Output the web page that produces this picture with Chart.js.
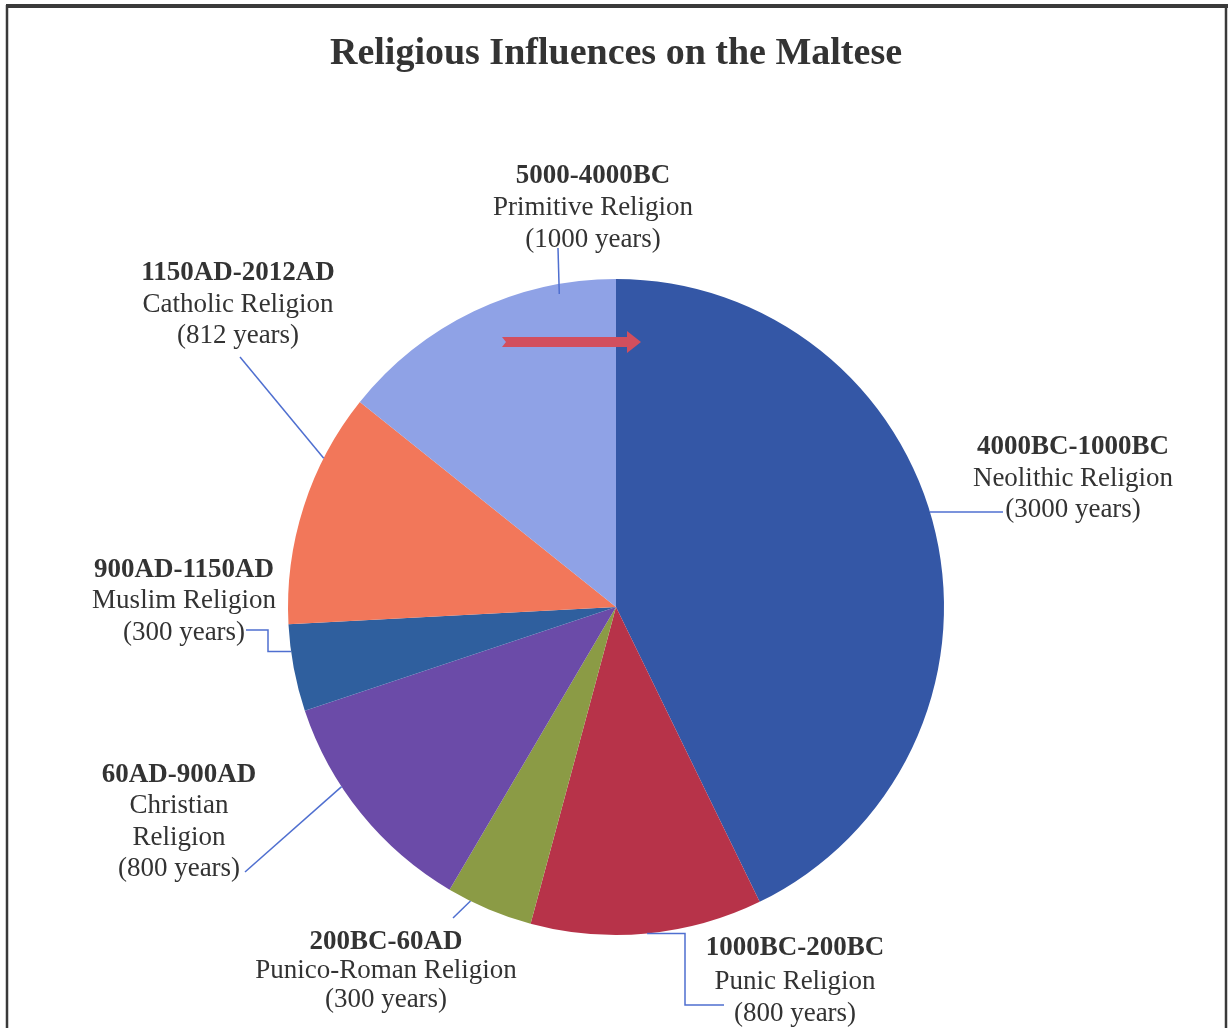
<!DOCTYPE html>
<html><head><meta charset="utf-8">
<script src="https://cdn.jsdelivr.net/npm/chart.js@4/dist/chart.umd.min.js"></script>
<style>html,body{margin:0;padding:0;background:#fff}canvas{display:block}</style>
</head>
<body>
<canvas id="c" width="1230" height="1028"></canvas>
<script>
// ---- data ----
const chartTitle = "Religious Influences on the Maltese";
const periods = ["4000BC-1000BC", "1000BC-200BC", "200BC-60AD", "60AD-900AD", "900AD-1150AD", "1150AD-2012AD", "5000-4000BC"];
const religions = ["Neolithic Religion", "Punic Religion", "Punico-Roman Religion", "Christian Religion", "Muslim Religion", "Catholic Religion", "Primitive Religion"];
const years = [3000, 800, 300, 800, 300, 812, 1000];

// ---- styles ----
const sliceColors = ["#3457a6", "#b73349", "#8b9b45", "#6b4ba8", "#2f5f9e", "#f2775a", "#8fa2e6"];
const FONT = "'Liberation Serif', 'Times New Roman', serif";
const TEXT = "#333333";
const LEADER = "#4f6fd0";

// label layout: text centre x, baselines, leader path (P = point on slice)
const labelLayout = [
  {cx: 1073, base: [454, 486, 517], frac: 0.475, rf: 1.0, via: [[1003, 'P']]},
  {cx: 795,  base: [955, 989, 1021], frac: 0.5, rf: 1.0, via: [[724, 1005], [685, 1005], [685, 'P']]},
  {cx: 386,  base: [949, 978, 1007], frac: 0.73, rf: 1.0, via: [[453, 918]]},
  {cx: 179,  base: [782, 813, 845, 876], split: true, frac: 0.64, rf: 1.0, via: [[245, 872]]},
  {cx: 184,  base: [577, 608, 640], frac: 0.69, rf: 1.0, via: [[246, 630], [268, 630], [268, 'P']]},
  {cx: 238,  base: [280, 312, 343], frac: 0.72, rf: 1.0, via: [[240, 357]]},
  {cx: 593,  base: [183, 215, 247], frac: 0.8, rf: 0.97, via: [[558, 248]]}
];

const decorPlugin = {
  id: 'decor',
  beforeDraw(chart) {
    const ctx = chart.ctx;
    ctx.save();
    ctx.fillStyle = '#fff';
    ctx.fillRect(0, 0, chart.width, chart.height);
    ctx.restore();
  },
  afterDatasetsDraw(chart) {
    const ctx = chart.ctx;
    const meta = chart.getDatasetMeta(0);
    ctx.save();
    // leader lines
    ctx.strokeStyle = LEADER;
    ctx.lineWidth = 1.5;
    meta.data.forEach((arc, i) => {
      const p = arc.getProps(['x', 'y', 'startAngle', 'endAngle', 'outerRadius'], true);
      const L = labelLayout[i];
      const a = p.startAngle + L.frac * (p.endAngle - p.startAngle);
      const P = [p.x + Math.cos(a) * p.outerRadius * L.rf, p.y + Math.sin(a) * p.outerRadius * L.rf];
      ctx.beginPath();
      L.via.forEach((pt, k) => {
        const x = pt[0] === 'P' ? P[0] : pt[0];
        const y = pt[1] === 'P' ? P[1] : pt[1];
        if (k === 0) ctx.moveTo(x, y); else ctx.lineTo(x, y);
      });
      ctx.lineTo(P[0], P[1]);
      ctx.stroke();
    });
    // arrow decoration in the top slice
    ctx.fillStyle = '#d24f5e';
    ctx.beginPath();
    ctx.moveTo(502, 337);
    ctx.lineTo(627, 337);
    ctx.lineTo(627, 331);
    ctx.lineTo(641, 342);
    ctx.lineTo(627, 353);
    ctx.lineTo(627, 347);
    ctx.lineTo(502, 347);
    ctx.lineTo(506, 342);
    ctx.closePath();
    ctx.fill();
    ctx.restore();
  },
  afterDraw(chart) {
    const ctx = chart.ctx;
    ctx.save();
    // frame
    ctx.strokeStyle = '#3a3a3a';
    ctx.lineWidth = 4;
    ctx.beginPath(); ctx.moveTo(6, 6); ctx.lineTo(1228, 6); ctx.stroke();
    ctx.lineWidth = 2.5;
    ctx.beginPath(); ctx.moveTo(7, 5); ctx.lineTo(7, 1028); ctx.stroke();
    ctx.beginPath(); ctx.moveTo(1226, 5); ctx.lineTo(1226, 1028); ctx.stroke();
    // title
    ctx.fillStyle = TEXT;
    ctx.textAlign = 'center';
    ctx.textBaseline = 'alphabetic';
    ctx.font = "bold 38px " + FONT;
    ctx.fillText(chartTitle, 616, 64);
    // labels
    labelLayout.forEach((L, i) => {
      const lines = [periods[i]];
      if (L.split) religions[i].split(' ').forEach(w => lines.push(w));
      else lines.push(religions[i]);
      lines.push('(' + years[i] + ' years)');
      lines.forEach((t, k) => {
        ctx.font = (k === 0 ? "bold " : "") + "27px " + FONT;
        ctx.fillText(t, L.cx, L.base[k]);
      });
    });
    ctx.restore();
  }
};

new Chart(document.getElementById('c'), {
  type: 'pie',
  data: {
    labels: religions,
    datasets: [{
      data: years,
      backgroundColor: sliceColors,
      borderWidth: 0,
      hoverOffset: 0
    }]
  },
  options: {
    responsive: false,
    animation: false,
    devicePixelRatio: 1,
    layout: {padding: {left: 288, right: 286, top: 279, bottom: 93}},
    plugins: {legend: {display: false}, tooltip: {enabled: false}, title: {display: false}}
  },
  plugins: [decorPlugin]
});
</script>
</body></html>
